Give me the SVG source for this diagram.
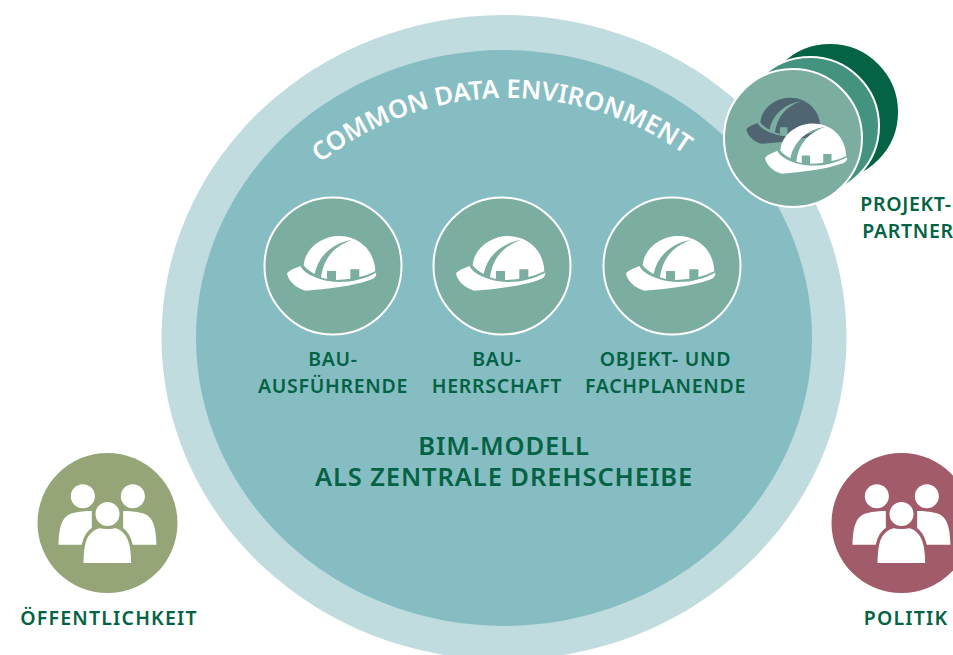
<svg xmlns="http://www.w3.org/2000/svg" xmlns:xlink="http://www.w3.org/1999/xlink" width="953" height="655" viewBox="0 0 953 655">
<style>
text{font-family:"Noto Sans","Open Sans","Liberation Sans",sans-serif;font-weight:600;fill:#036344;text-anchor:middle}
.l{font-size:19.500px;letter-spacing:.7px}
.w{letter-spacing:1.200px}
.b{font-size:25.500px;letter-spacing:.9px}
.c{fill:#fff;font-size:25.500px;letter-spacing:.05px;text-anchor:start}
.n{fill:#7bada0;stroke:#fff;stroke-width:2}
</style>
<defs>
<g id="helmet" fill="currentColor">
<path d="M-138,22C-130,12-110,5-98,0C-85,25-45,40-10,46C40,52 90,42 129,20C132,30 125,37 110,42C60,60-20,70-83,74C-110,68-135,45-138,22Z"/>
<path d="M-88,-2C-83,-58-28,-90 17,-90C77,-90 125,-48 127,16C110,24 95,30 79,33V10H52V38C38,40 24,41 9,42V15H-18V39C-24,38-30,36-36,34C-28,-25 5,-60 57,-78C0,-70-45,-30-55,24C-70,16-80,8-88,-2Z"/>
</g>
<g id="people">
<circle cx="-74" cy="-80" r="36" fill="#fff"/>
<circle cx="76" cy="-80" r="36" fill="#fff"/>
<path fill="#fff" d="M-147,65C-145,10-137,-22-102,-30C-85,-34-65,-36-47,-36V65Z"/>
<path fill="#fff" d="M147,65C145,10 137,-22 102,-30C85,-34 65,-36 47,-36V65Z"/>
<path fill="#fff" stroke="currentColor" stroke-width="10" d="M-77,125C-77,65-70,22-24,10C-12,14 12,14 25,10C66,22 76,65 76,125Z"/>
<circle cx="0" cy="-27" r="40" fill="#fff" stroke="currentColor" stroke-width="8"/>
</g>
<path id="arc" d="M320,163A304,304 0 0 1 696,163"/>
</defs>
<g id="environment">
<ellipse cx="504" cy="337.500" rx="342.500" ry="322.500" fill="#c0dcdf"/>
<ellipse cx="504" cy="338" rx="308" ry="288" fill="#86bdc3"/>
<text class="c"><textPath xlink:href="#arc" href="#arc">COMMON DATA ENVIRONMENT</textPath></text>
<text class="b" x="504" y="455">BIM-MODELL</text>
<text class="b" x="504" y="486">ALS ZENTRALE DREHSCHEIBE</text>
</g>
<g id="bauausfuehrende">
<circle class="n" cx="333" cy="266" r="68.500"/>
<use href="#helmet" color="#fff" transform="translate(333,266) scale(.3333)"/>
<text class="l" x="333" y="366">BAU-</text><text class="l" x="333" y="393">AUSFÜHRENDE</text>
</g>
<g id="bauherrschaft">
<circle class="n" cx="502" cy="266" r="68.500"/>
<use href="#helmet" color="#fff" transform="translate(502,266) scale(.3333)"/>
<text class="l" x="497" y="366">BAU-</text><text class="l" x="497" y="393">HERRSCHAFT</text>
</g>
<g id="fachplanende">
<circle class="n" cx="672" cy="266" r="68.500"/>
<use href="#helmet" color="#fff" transform="translate(672,266) scale(.3333)"/>
<text class="l" x="665.500" y="366">OBJEKT- UND</text><text class="l" x="665.500" y="393">FACHPLANENDE</text>
</g>
<g id="projektpartner">
<circle cx="830" cy="112" r="69" fill="#036344" stroke="#fff" stroke-width="2"/>
<circle cx="810" cy="126" r="69" fill="#43937f" stroke="#fff" stroke-width="2"/>
<circle class="n" cx="793" cy="138" r="69"/>
<use href="#helmet" color="#4f6672" transform="translate(785,123) scale(.28)"/>
<use href="#helmet" color="#fff" transform="translate(807.300,151) scale(.3063)"/>
<text class="l" x="906" y="211">PROJEKT-</text><text class="l" x="908" y="238">PARTNER</text>
</g>
<g id="oeffentlichkeit">
<circle cx="107.500" cy="523" r="70" fill="#96a578"/>
<use href="#people" color="#96a578" transform="translate(107.500,523) scale(.3333)"/>
<text class="l w" x="109" y="625">ÖFFENTLICHKEIT</text>
</g>
<g id="politik">
<circle cx="901.500" cy="523" r="70" fill="#a25b69"/>
<use href="#people" color="#a25b69" transform="translate(901.500,523) scale(.3333)"/>
<text class="l w" x="906" y="625">POLITIK</text>
</g>
</svg>
